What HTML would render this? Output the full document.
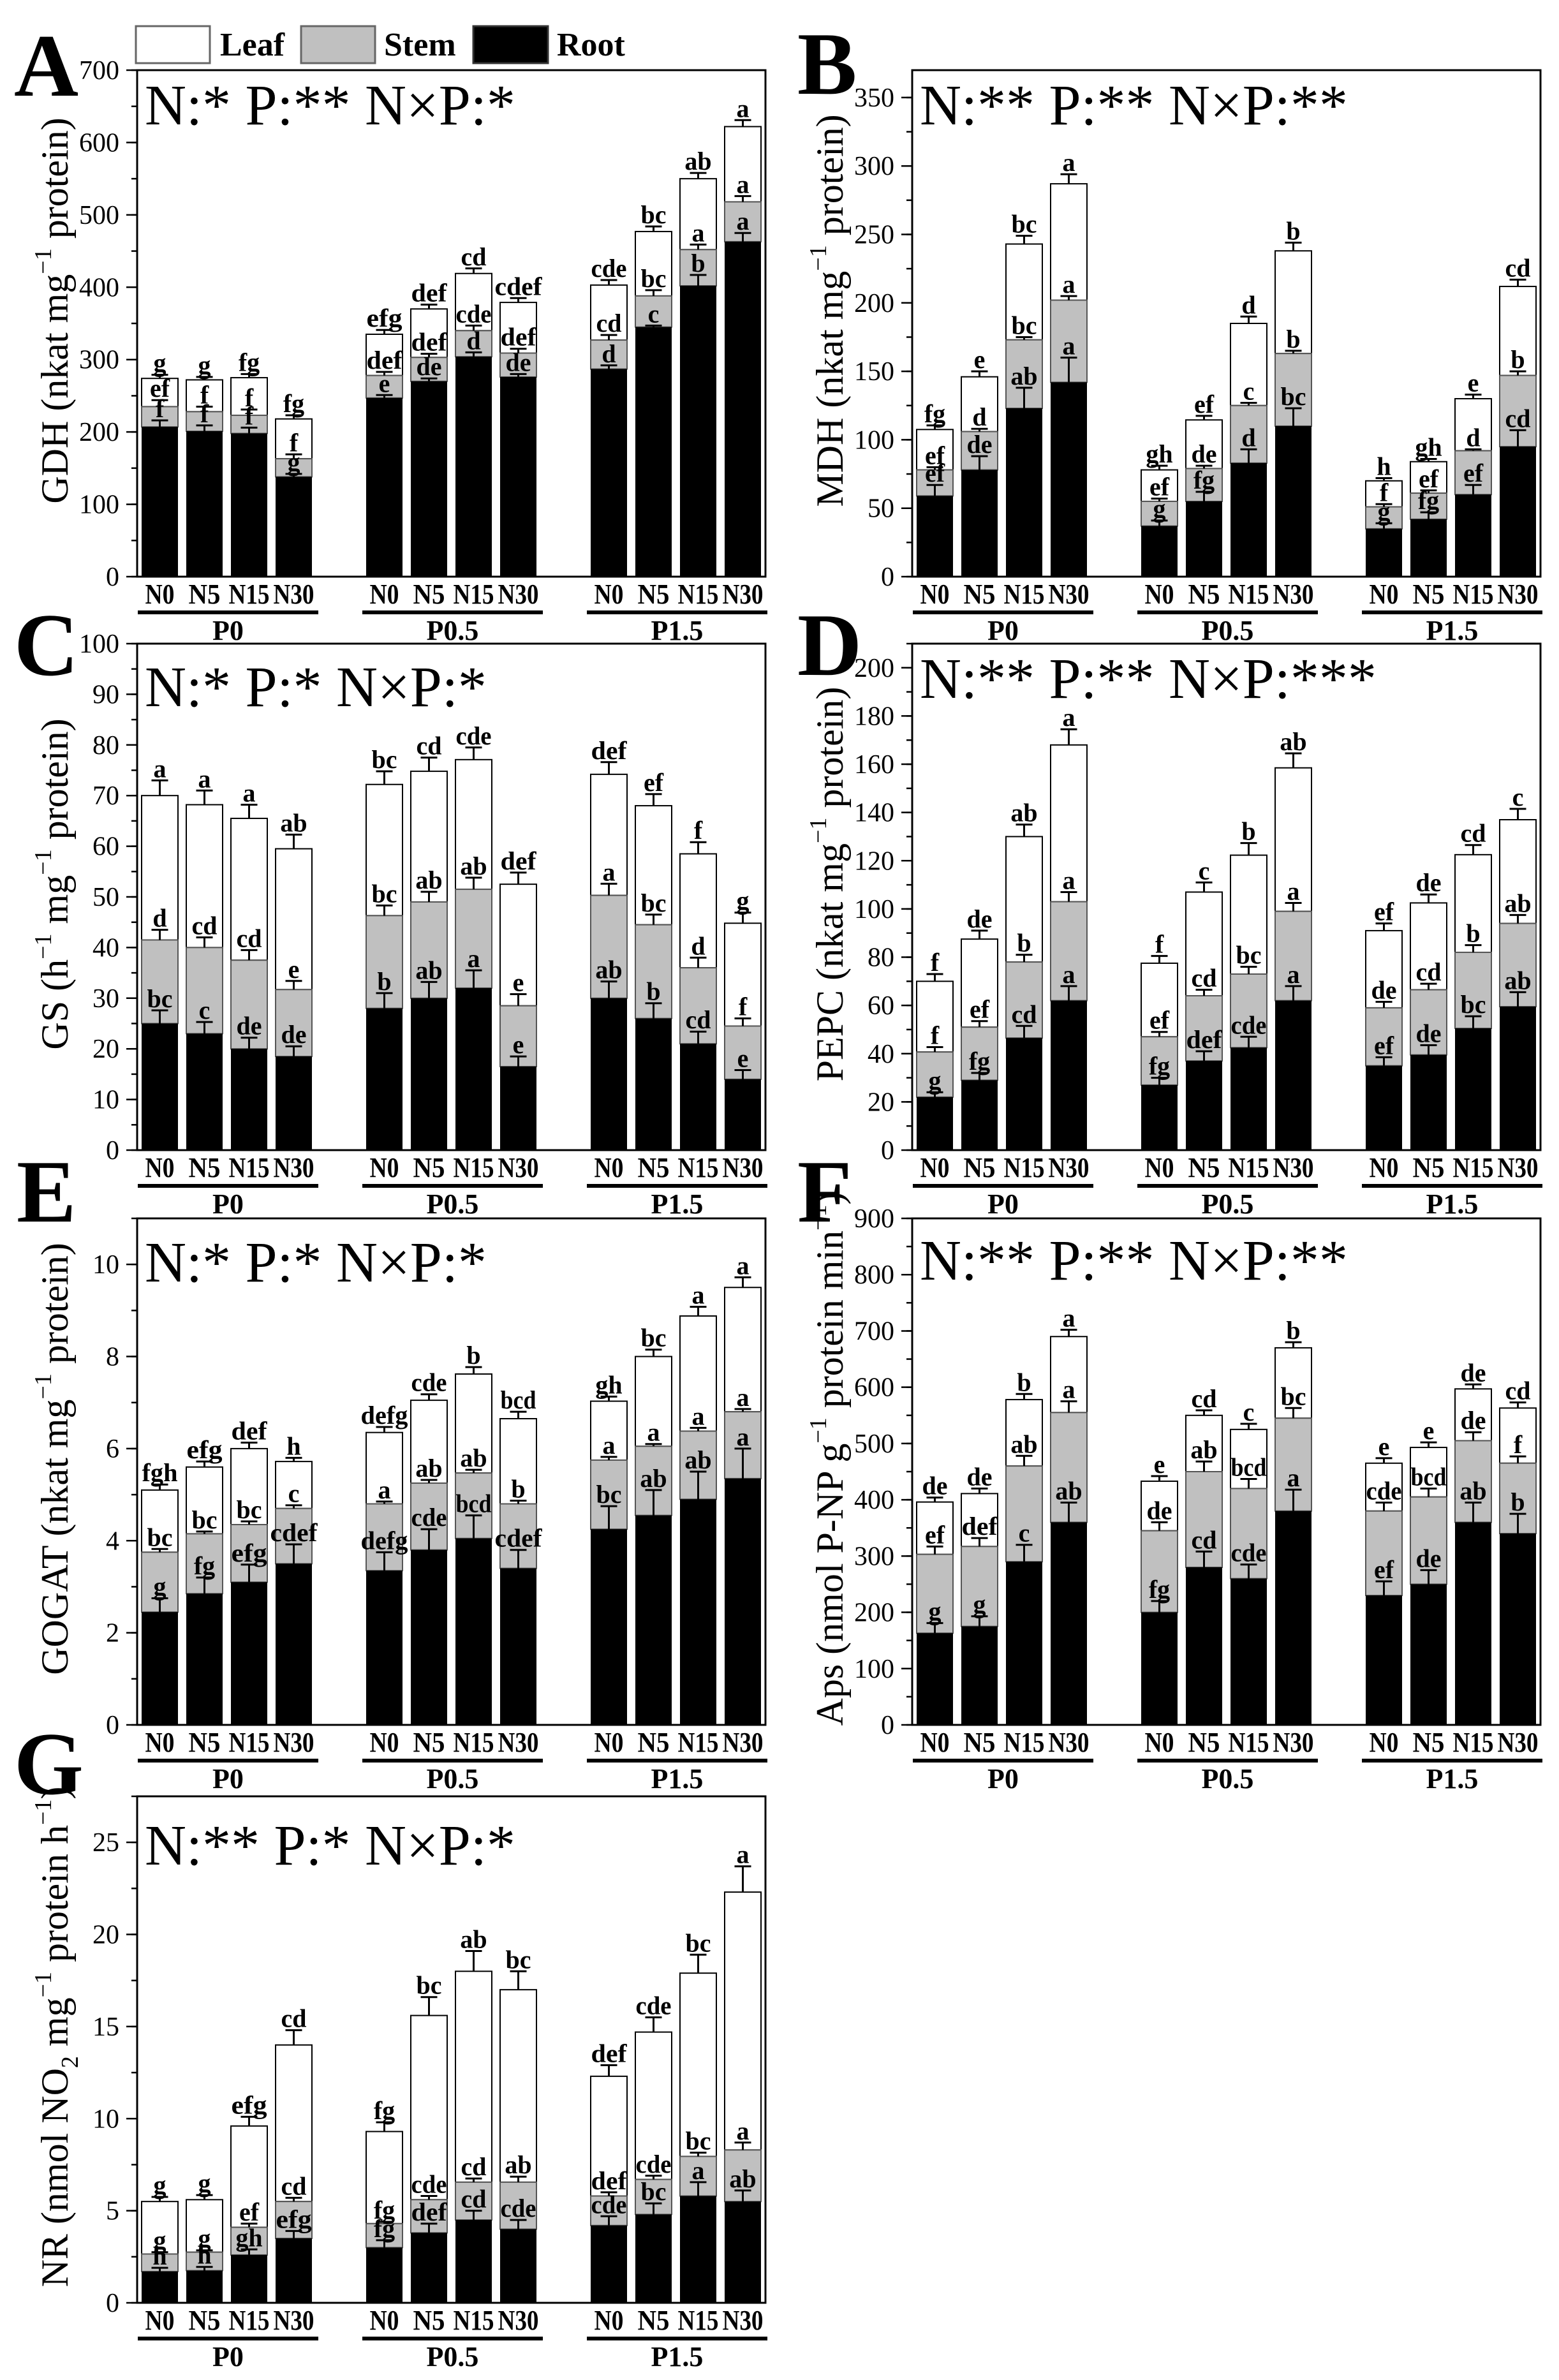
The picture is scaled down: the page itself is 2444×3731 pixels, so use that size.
<!DOCTYPE html>
<html><head><meta charset="utf-8">
<style>
html,body{margin:0;padding:0;background:#fff;}
svg{display:block;font-family:"Liberation Serif",serif;}
svg text{font-family:"Liberation Serif","DejaVu Serif",serif;}
</style></head>
<body>
<svg id="fig" xmlns="http://www.w3.org/2000/svg" width="2444" height="3731" viewBox="0 0 2444 3731" font-family="Liberation Serif, serif">
<rect x="0" y="0" width="2444" height="3731" fill="#fff"/>
<g>
  <rect x="213" y="41" width="116" height="58" fill="#fff" stroke="#666" stroke-width="3"/>
  <text x="345" y="87" font-family="Liberation Serif, serif" font-size="52" font-weight="bold">Leaf</text>
  <rect x="472" y="41" width="116" height="58" fill="#c0c0c0" stroke="#666" stroke-width="3"/>
  <text x="602" y="87" font-family="Liberation Serif, serif" font-size="52" font-weight="bold">Stem</text>
  <rect x="742" y="41" width="117" height="58" fill="#000" stroke="#333" stroke-width="3"/>
  <text x="873" y="87" font-family="Liberation Serif, serif" font-size="52" font-weight="bold">Root</text>
</g>
</svg>
<script>
const nLevels = ['N0','N5','N15','N30'];
const pLevels = ['P0','P0.5','P1.5'];

const gdhRoot  = [207,201,198,138, 247,270,304,276, 287,345,402,463];
const gdhStem  = [235,228,223,163, 278,303,340,309, 327,388,452,518];
const gdhTotal = [274,272,275,218, 335,370,419,379, 403,477,550,622];
const gdhErrRoot  = [9,8,8,4, 4,4,6,4, 5,2,15,12];
const gdhErrStem  = [9,7,8,6, 5,5,7,6, 7,8,7,8];
const gdhErrTotal = [5,4,5,5, 6,6,7,6, 7,7,8,9];
const gdhLetRoot  = ['f','f','f','g','e','de','d','de','d','c','b','a'];
const gdhLetStem  = ['ef','f','f','f','def','def','cde','def','cd','bc','a','a'];
const gdhLetTotal = ['g','g','fg','fg','efg','def','cd','cdef','cde','bc','ab','a'];
const gdhTicks = [0,100,200,300,400,500,600,700];

const mdhRoot  = [59,78,123,142, 37,55,83,110, 35,42,60,95];
const mdhStem  = [78,106,173,202, 55,79,125,163, 51,61,92,147];
const mdhTotal = [107.5,146,243,287, 78,114.5,185,238, 70,84,130,212];
const mdhErrRoot  = [8,10,15,18, 4,7,10,13, 4,5,7,12];
const mdhErrStem  = [2,2,2,3, 2,2,2,2, 2,2,1,3];
const mdhErrTotal = [3,4,6,7, 3,3,5,6, 2,2,3,5];
const mdhLetRoot  = ['ef','de','ab','a','g','fg','d','bc','g','fg','ef','cd'];
const mdhLetStem  = ['ef','d','bc','a','ef','de','c','b','f','ef','d','b'];
const mdhLetTotal = ['fg','e','bc','a','gh','ef','d','b','h','gh','e','cd'];
const mdhTicks = [0,50,100,150,200,250,300,350];

const gsRoot  = [25,23,20,18.5, 28,30,32,16.5, 30,26,21,14];
const gsStem  = [41.5,40,37.5,31.7, 46.3,49,51.5,28.5, 50.3,44.5,36,24.5];
const gsTotal = [70,68.2,65.5,59.5, 72.2,74.8,77.1,52.5, 74.2,68,58.5,44.8];
const gsErrRoot  = [2.6,2.3,2.2,2, 3,3.2,3.5,2, 3.3,3,2.4,1.8];
const gsErrStem  = [2,2,2,1.7, 2,2,2.3,2.3, 2.3,2,2,1.5];
const gsErrTotal = [3,2.8,2.7,2.8, 2.6,2.7,2.4,2.3, 2.4,2.3,2.3,2.1];
const gsLetRoot  = ['bc','c','de','de','b','ab','a','e','ab','b','cd','e'];
const gsLetStem  = ['d','cd','cd','e','bc','ab','ab','e','a','bc','d','f'];
const gsLetTotal = ['a','a','a','ab','bc','cd','cde','def','def','ef','f','g'];
const gsTicks = [0,10,20,30,40,50,60,70,80,90,100];

const pepcRoot  = [22,29,46.5,62, 27,37,42.5,62, 35,39.5,50.5,59.5];
const pepcStem  = [40.7,51,78,103, 47,64,73,99, 59,66.5,82,94];
const pepcTotal = [70,87.5,130,168, 77.5,107,122.3,158.5, 91,102.5,122.5,137];
const pepcErrRoot  = [2,3,5,6, 3,4,4.5,6, 3.5,4,5,6];
const pepcErrStem  = [2,2.5,3,4, 2,2.5,3,3.5, 2.5,2.5,3,3.5];
const pepcErrTotal = [3,3.5,5,6.5, 3,4,5,6, 3,3.5,4,4.5];
const pepcLetRoot  = ['g','fg','cd','a','fg','def','cde','a','ef','de','bc','ab'];
const pepcLetStem  = ['f','ef','b','a','ef','cd','bc','a','de','cd','b','ab'];
const pepcLetTotal = ['f','de','ab','a','f','c','b','ab','ef','de','cd','c'];
const pepcTicks = [0,20,40,60,80,100,120,140,160,180,200];

const gogatRoot  = [2.45,2.85,3.1,3.5, 3.35,3.8,4.05,3.4, 4.25,4.55,4.9,5.35];
const gogatStem  = [3.75,4.15,4.35,4.7, 4.8,5.25,5.47,4.8, 5.75,6.05,6.38,6.8];
const gogatTotal = [5.1,5.6,6.0,5.72, 6.35,7.05,7.62,6.65, 7.03,8.0,8.88,9.5];
const gogatErrRoot  = [0.3,0.35,0.38,0.42, 0.4,0.45,0.5,0.4, 0.5,0.55,0.6,0.65];
const gogatErrStem  = [0.07,0.05,0.07,0.07, 0.05,0.07,0.07,0.07, 0.07,0.05,0.07,0.06];
const gogatErrTotal = [0.12,0.12,0.13,0.08, 0.12,0.13,0.15,0.15, 0.1,0.15,0.2,0.22];
const gogatLetRoot  = ['g','fg','efg','cdef','defg','cde','bcd','cdef','bc','ab','ab','a'];
const gogatLetStem  = ['bc','bc','bc','c','a','ab','ab','b','a','a','a','a'];
const gogatLetTotal = ['fgh','efg','def','h','defg','cde','b','bcd','gh','bc','a','a'];
const gogatTicks = [0,2,4,6,8,10];

const apsRoot  = [163,175,290,360, 200,280,260,380, 230,250,360,340];
const apsStem  = [303,317,460,555, 345,450,420,545, 380,405,505,465];
const apsTotal = [396,411,578,690, 433,550,525,670, 465,493,597,563];
const apsErrRoot  = [18,18,30,35, 20,28,25,38, 25,25,35,35];
const apsErrStem  = [14,15,18,20, 15,18,17,18, 15,15,15,12];
const apsErrTotal = [8,9,10,12, 9,9,10,10, 9,9,8,10];
const apsLetRoot  = ['g','g','c','ab','fg','cd','cde','a','ef','de','ab','b'];
const apsLetStem  = ['ef','def','ab','a','de','ab','bcd','bc','cde','bcd','de','f'];
const apsLetTotal = ['de','de','b','a','e','cd','c','b','e','e','de','cd'];
const apsTicks = [0,100,200,300,400,500,600,700,800,900];

const nrRoot  = [1.7,1.75,2.6,3.5, 3.0,3.8,4.5,4.0, 4.2,4.8,5.8,5.5];
const nrStem  = [2.65,2.75,4.1,5.5, 4.3,5.6,6.55,6.55, 5.8,6.7,7.95,8.3];
const nrTotal = [5.5,5.6,9.6,14.0, 9.3,15.6,18.0,17.0, 12.3,14.7,17.9,22.3];
const nrErrRoot  = [0.2,0.2,0.3,0.4, 0.4,0.5,0.5,0.5, 0.5,0.6,0.75,0.6];
const nrErrStem  = [0.1,0.1,0.2,0.2, 0.1,0.2,0.2,0.3, 0.2,0.2,0.2,0.4];
const nrErrTotal = [0.25,0.25,0.5,0.8, 0.5,1,1.1,1, 0.6,0.8,1,1.4];
const nrLetRoot  = ['h','h','gh','efg','fg','def','cd','cde','cde','bc','a','ab'];
const nrLetStem  = ['g','g','ef','cd','fg','cde','cd','ab','def','cde','bc','a'];
const nrLetTotal = ['g','g','efg','cd','fg','bc','ab','bc','def','cde','bc','a'];
const nrTicks = [0,5,10,15,20,25];

const NS='http://www.w3.org/2000/svg';
const svg=document.getElementById('fig');
const H=794;
const FF='Liberation Serif, DejaVu Serif, serif';
function mk(tag,attrs,parent){const e=document.createElementNS(NS,tag);for(const k in attrs)e.setAttribute(k,attrs[k]);if(tag==='text')e.setAttribute('font-family',FF);(parent||svg).appendChild(e);return e;}
const nLabelW={'N0':46,'N5':50,'N15':64,'N30':64};

const panels=[
 {id:'A',L:215,top:110,max:700,minor:50,ticks:gdhTicks,root:gdhRoot,stem:gdhStem,total:gdhTotal,eR:gdhErrRoot,eS:gdhErrStem,eT:gdhErrTotal,lR:gdhLetRoot,lS:gdhLetStem,lT:gdhLetTotal,annot:'N:* P:** N×P:*',aDy:85,lx:22,lb:150,title:[['GDH (nkat mg',''],['−1','sup'],[' protein)','']]},
 {id:'B',L:1430,top:110,max:370,minor:25,ticks:mdhTicks,root:mdhRoot,stem:mdhStem,total:mdhTotal,eR:mdhErrRoot,eS:mdhErrStem,eT:mdhErrTotal,lR:mdhLetRoot,lS:mdhLetStem,lT:mdhLetTotal,annot:'N:** P:** N×P:**',aDy:85,lx:1250,lb:147,title:[['MDH (nkat mg',''],['−1','sup'],[' protein)','']]},
 {id:'C',L:215,top:1009,max:100,minor:5,ticks:gsTicks,root:gsRoot,stem:gsStem,total:gsTotal,eR:gsErrRoot,eS:gsErrStem,eT:gsErrTotal,lR:gsLetRoot,lS:gsLetStem,lT:gsLetTotal,annot:'N:* P:* N×P:*',aDy:98,lx:22,lb:1058,title:[['GS (h',''],['−1','sup'],[' mg',''],['−1','sup'],['  protein)','']]},
 {id:'D',L:1430,top:1009,max:210,minor:10,ticks:pepcTicks,root:pepcRoot,stem:pepcStem,total:pepcTotal,eR:pepcErrRoot,eS:pepcErrStem,eT:pepcErrTotal,lR:pepcLetRoot,lS:pepcLetStem,lT:pepcLetTotal,annot:'N:** P:** N×P:***',aDy:85,lx:1250,lb:1058,title:[['PEPC (nkat mg',''],['−1','sup'],[' protein)','']]},
 {id:'E',L:215,top:1910,max:11,minor:1,ticks:gogatTicks,root:gogatRoot,stem:gogatStem,total:gogatTotal,eR:gogatErrRoot,eS:gogatErrStem,eT:gogatErrTotal,lR:gogatLetRoot,lS:gogatLetStem,lT:gogatLetTotal,annot:'N:* P:* N×P:*',aDy:99,lx:26,lb:1915,title:[['GOGAT (nkat mg',''],['−1','sup'],[' protein)','']]},
 {id:'F',L:1430,top:1910,max:900,minor:50,ticks:apsTicks,root:apsRoot,stem:apsStem,total:apsTotal,eR:apsErrRoot,eS:apsErrStem,eT:apsErrTotal,lR:apsLetRoot,lS:apsLetStem,lT:apsLetTotal,annot:'N:** P:** N×P:**',aDy:96,lx:1250,lb:1915,title:[['Aps (nmol P-NP g',''],['−1','sup'],[' protein min',''],['−1','sup'],[')','']]},
 {id:'G',L:215,top:2816,max:27.5,minor:2.5,ticks:nrTicks,root:nrRoot,stem:nrStem,total:nrTotal,eR:nrErrRoot,eS:nrErrStem,eT:nrErrTotal,lR:nrLetRoot,lS:nrLetStem,lT:nrLetTotal,annot:'N:** P:* N×P:*',aDy:107,lx:22,lb:2812,title:[['NR (nmol NO',''],['2','sub'],[' mg',''],['−1','sup'],[' protein h',''],['−1','sup'],[')','']]}
];

panels.forEach(p=>{
  const g=mk('g',{});
  
  
  const bottom=p.top+H;
  const y=v=>bottom-v/p.max*H;
  const xb=i=>p.L+7+Math.floor(i/4)*352+(i%4)*70;
  const pl=mk('text',{x:p.lx,y:p.lb,'font-size':140,'font-weight':'bold'},g);
  
  
  pl.textContent=p.id;
  for(let i=0;i<12;i++){
    const x=xb(i), cx=x+28.5;
    const leaf=mk('rect',{x:x,y:y(p.total[i]),width:57,height:y(p.stem[i])-y(p.total[i]),fill:'#fff',stroke:'#000','stroke-width':2},g);
    
    
    const st=mk('rect',{x:x,y:y(p.stem[i]),width:57,height:y(p.root[i])-y(p.stem[i]),fill:'#c0c0c0',stroke:'#555','stroke-width':2},g);
    
    
    const rt=mk('rect',{x:x,y:y(p.root[i]),width:57,height:bottom-y(p.root[i]),fill:'#000'},g);
    
    
    [[p.root,p.eR,p.lR],[p.stem,p.eS,p.lS],[p.total,p.eT,p.lT]].forEach(([vals,errs,lets])=>{
      const y0=y(vals[i]), y1=y(vals[i]+errs[i]);
      const eb=mk('path',{d:`M${cx} ${y0}V${y1}M${cx-13} ${y1}H${cx+13}`,stroke:'#000','stroke-width':3,fill:'none'},g);
      
      
      const ta={x:cx,y:y1-5,'font-size':40,'font-weight':'bold','text-anchor':'middle'};
      if(lets[i].length>=3){ta.textLength=18*lets[i].length+2;ta.lengthAdjust='spacingAndGlyphs';}
      const t=mk('text',ta,g);
      
      
      t.textContent=lets[i];
    });
  }
  const fr=mk('rect',{x:p.L,y:p.top,width:985,height:H,fill:'none',stroke:'#000','stroke-width':3},g);
  
  
  for(let v=0;v<=p.max+1e-9;v+=p.minor){
    const tk=mk('line',{x1:p.L-9,x2:p.L,y1:y(v),y2:y(v),stroke:'#000','stroke-width':2.5},g);
    
    
  }
  p.ticks.forEach(v=>{
    const tk=mk('line',{x1:p.L-17,x2:p.L,y1:y(v),y2:y(v),stroke:'#000','stroke-width':2.5},g);
    
    
    const tl=mk('text',{x:p.L-28,y:y(v)+14,'font-size':42,'text-anchor':'end'},g);
    
    
    tl.textContent=v;
  });
  const cxT=p.L-123, cyT=p.top+H/2-20;
  const tt=mk('text',{x:cxT,y:cyT,'font-size':60,'text-anchor':'middle',transform:`rotate(-90 ${cxT} ${cyT})`,'dominant-baseline':'middle'},g);
  
  
  p.title.forEach(([s,kind])=>{
    const ts=mk('tspan',{},tt);
    if(kind==='sup'){ts.setAttribute('baseline-shift','super');ts.setAttribute('font-size','38');}
    if(kind==='sub'){ts.setAttribute('baseline-shift','sub');ts.setAttribute('font-size','38');}
    ts.textContent=s;
  });
  const an=mk('text',{x:p.L+12,y:p.top+p.aDy,'font-size':90},g);
  
  
  an.textContent=p.annot;
  for(let i=0;i<12;i++){
    const lab=nLevels[i%4];
    const xl=mk('text',{x:xb(i)+28.5,y:bottom+42,'font-size':44,'font-weight':'bold','text-anchor':'middle',textLength:nLabelW[lab],lengthAdjust:'spacingAndGlyphs'},g);
    
    
    xl.textContent=lab;
  }
  pLevels.forEach((pl2,gi)=>{
    const x0=p.L+gi*352+1, x1=x0+283;
    const ul=mk('rect',{x:x0,y:bottom+53,width:x1-x0,height:6,fill:'#000'},g);
    
    
    const gl=mk('text',{x:(x0+x1)/2,y:bottom+99,'font-size':44,'font-weight':'bold','text-anchor':'middle'},g);
    
    
    gl.textContent=pl2;
  });
});
</script>
</body></html>
